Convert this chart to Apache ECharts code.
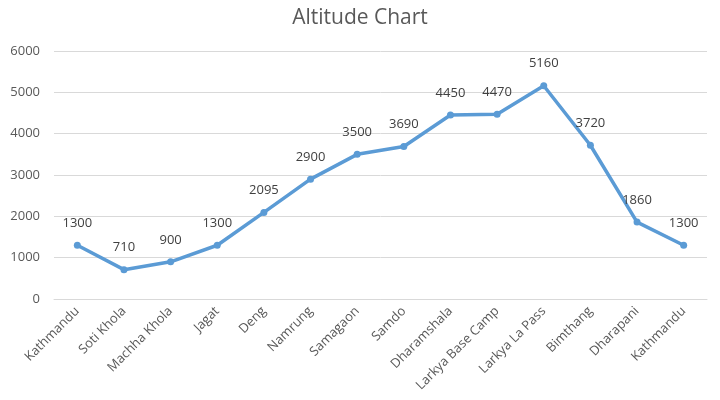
<!DOCTYPE html>
<html>
<head>
<meta charset="utf-8">
<script src="https://cdn.jsdelivr.net/npm/echarts@6/dist/echarts.min.js"></script>
<style>
  html, body { margin: 0; padding: 0; background: #fff; }
  #chart { width: 720px; height: 400px; }
</style>
</head>
<body>
<div id="chart"></div>
<script>
  const places = ['Kathmandu', 'Soti Khola', 'Machha Khola', 'Jagat', 'Deng', 'Namrung', 'Samagaon',
    'Samdo', 'Dharamshala', 'Larkya Base Camp', 'Larkya La Pass', 'Bimthang', 'Dharapani', 'Kathmandu']
  const altitudes = [1300, 710, 900, 1300, 2095, 2900, 3500, 3690, 4450, 4470, 5160, 3720, 1860, 1300]

  const chart = echarts.init(document.getElementById('chart'))
  const font = "'Open Sans', 'Liberation Sans', sans-serif"

  chart.setOption({
    animation: false,
    title: {
      text: 'Altitude Chart',
      left: 'center',
      top: 3,
      textStyle: { fontFamily: font, fontSize: 21, fontWeight: 'normal', color: '#595959' }
    },
    grid: { left: 54, right: 13, top: 51, bottom: 101 },
    xAxis: {
      type: 'category',
      data: places,
      boundaryGap: true,
      axisLine: { lineStyle: { color: '#d9d9d9' } },
      axisTick: { show: false },
      axisLabel: { rotate: 45, interval: 0, fontFamily: font, fontSize: 13, color: '#595959', margin: 10 }
    },
    yAxis: {
      type: 'value',
      min: 0,
      max: 6000,
      interval: 1000,
      axisLabel: { fontFamily: font, fontSize: 13, color: '#595959', margin: 14, formatter: v => String(v) },
      splitLine: { lineStyle: { color: '#d9d9d9' } }
    },
    series: [{
      type: 'line',
      data: altitudes,
      symbol: 'circle',
      symbolSize: 7,
      lineStyle: { color: '#5b9bd5', width: 3.5 },
      itemStyle: { color: '#5b9bd5' },
      label: { show: true, position: 'top', distance: 12, fontFamily: font, fontSize: 13, color: '#404040' }
    }]
  })
</script>
</body>
</html>
